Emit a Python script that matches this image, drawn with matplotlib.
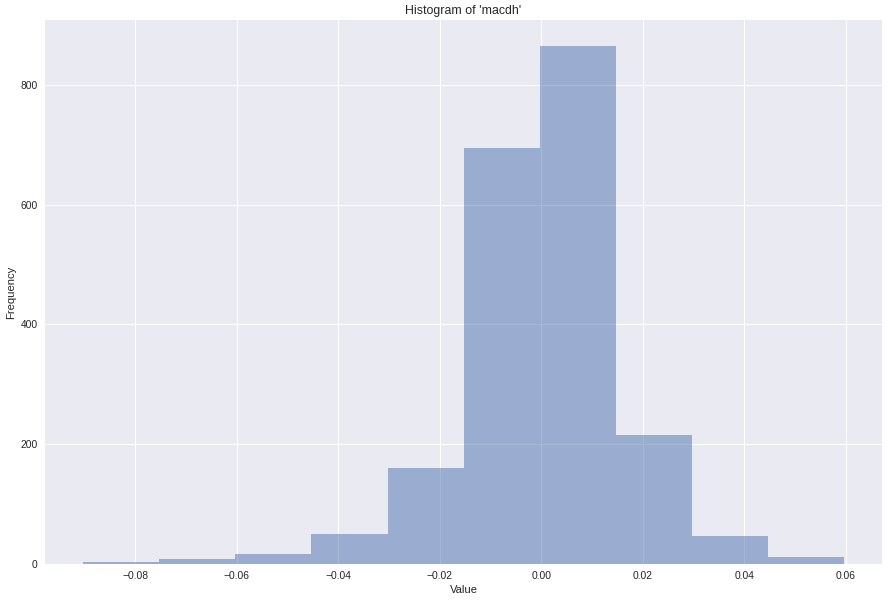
import matplotlib
matplotlib.use("Agg")
import matplotlib.pyplot as plt
import numpy as np

bin_edges = [-0.0903, -0.0753, -0.0603, -0.0453, -0.0303, -0.0153, -0.0003, 0.0147, 0.0297, 0.0447, 0.0596]
counts = [3, 9, 16, 50, 161, 695, 865, 215, 46, 11]
title = "Histogram of 'macdh'"
xlabel = "Value"
ylabel = "Frequency"

plt.style.use("seaborn-v0_8")
plt.rcParams['font.family'] = ['Liberation Sans', 'DejaVu Sans']

dpi = 74.08
fig, ax = plt.subplots(figsize=(889 / dpi, 602 / dpi), dpi=dpi)
edges = np.array(bin_edges)
centers = (edges[:-1] + edges[1:]) / 2
ax.hist(centers, bins=edges, weights=counts, alpha=0.5, color="#4C72B0")
ax.set_title(title)
ax.set_xlabel(xlabel)
ax.set_ylabel(ylabel)
fig.subplots_adjust(left=45 / 889, right=882 / 889, top=1 - 20 / 602, bottom=1 - 564 / 602)
fig.savefig("out.png", dpi=dpi)
